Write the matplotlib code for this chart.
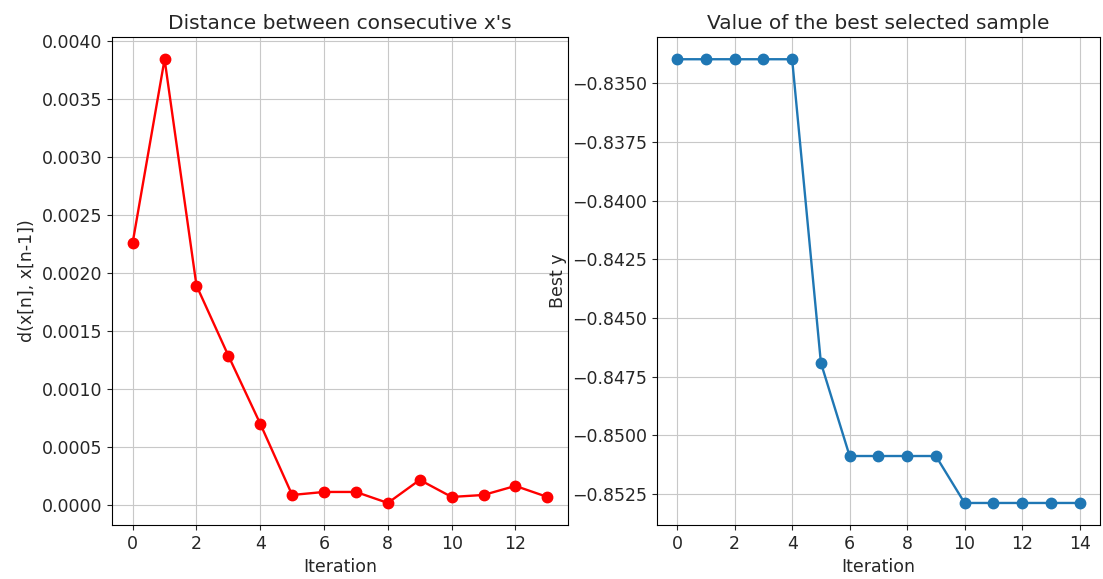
import matplotlib
matplotlib.use("Agg")
import matplotlib.pyplot as plt

# distance between consecutive samples
dist_iter = list(range(14))
dist_vals = [0.002263, 0.003844, 0.001892, 0.001287, 0.000700, 0.000086,
             0.000112, 0.000112, 0.000017, 0.000216, 0.000069, 0.000086,
             0.000164, 0.000069]

# best y found so far
best_iter = list(range(15))
best_vals = [-0.83398, -0.83398, -0.83398, -0.83398, -0.83398, -0.84691,
             -0.85088, -0.85088, -0.85088, -0.85088, -0.85288, -0.85288,
             -0.85288, -0.85288, -0.85288]

plt.rcParams['font.size'] = 12.5
plt.rcParams['text.color'] = '#262626'
plt.rcParams['axes.labelcolor'] = '#262626'
plt.rcParams['xtick.color'] = '#262626'
plt.rcParams['ytick.color'] = '#262626'

fig, (ax1, ax2) = plt.subplots(1, 2, figsize=(11.03, 5.79), dpi=100)
# axes boxes placed as in the picture
ax1.set_position([0.1015, 0.093, 0.4135, 0.843])
ax2.set_position([0.5957, 0.093, 0.4013, 0.843])

ax1.plot(dist_iter, dist_vals, 'ro-', markersize=7.5, linewidth=1.7)
ax1.set_title("Distance between consecutive x's", fontsize=14.5)
ax1.set_xlabel("Iteration")
ax1.set_ylabel("d(x[n], x[n-1])")
ax1.grid(True, color='#c8c8c8')

ax2.plot(best_iter, best_vals, 'o-', color='#1f77b4', markersize=7.5, linewidth=1.7)
ax2.set_title("Value of the best selected sample", fontsize=14.5)
ax2.set_xlabel("Iteration")
ax2.set_ylabel("Best y")
ax2.grid(True, color='#c8c8c8')

fig.savefig("out.png")
